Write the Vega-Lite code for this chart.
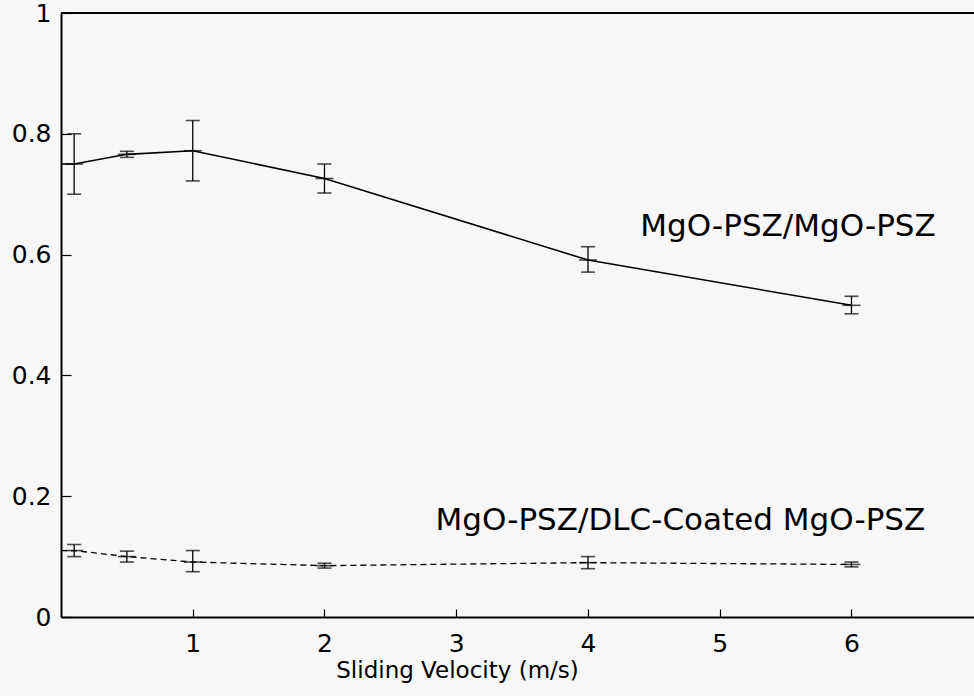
{
  "$schema": "https://vega.github.io/schema/vega-lite/v6.json",
  "width": 913,
  "height": 604,
  "autosize": {"type": "none"},
  "padding": {"left": 61, "top": 13, "right": 0, "bottom": 79},
  "background": "#f7f7f7",
  "config": {
    "view": {"stroke": null},
    "font": "DejaVu Sans"
  },
  "data": {
    "values": [
      {"s": "A", "x": 0, "v": 0.75},
      {"s": "A", "x": 0.1, "v": 0.75, "lo": 0.70, "hi": 0.80},
      {"s": "A", "x": 0.5, "v": 0.766, "lo": 0.761, "hi": 0.771},
      {"s": "A", "x": 1, "v": 0.772, "lo": 0.722, "hi": 0.822},
      {"s": "A", "x": 2, "v": 0.726, "lo": 0.702, "hi": 0.750},
      {"s": "A", "x": 4, "v": 0.591, "lo": 0.571, "hi": 0.613},
      {"s": "A", "x": 6, "v": 0.516, "lo": 0.502, "hi": 0.531},
      {"s": "B", "x": 0, "v": 0.11},
      {"s": "B", "x": 0.1, "v": 0.11, "lo": 0.10, "hi": 0.12},
      {"s": "B", "x": 0.5, "v": 0.10, "lo": 0.091, "hi": 0.109},
      {"s": "B", "x": 1, "v": 0.091, "lo": 0.075, "hi": 0.11},
      {"s": "B", "x": 2, "v": 0.085, "lo": 0.081, "hi": 0.089},
      {"s": "B", "x": 4, "v": 0.09, "lo": 0.08, "hi": 0.10},
      {"s": "B", "x": 6, "v": 0.087, "lo": 0.083, "hi": 0.091}
    ]
  },
  "encoding": {
    "x": {
      "field": "x",
      "type": "quantitative",
      "scale": {"domain": [0, 6.93], "nice": false, "zero": false},
      "axis": {
        "title": "Sliding Velocity (m/s)",
        "titleFont": "DejaVu Sans",
        "titleFontSize": 23,
        "titleFontWeight": "normal",
        "titleColor": "#000",
        "titlePadding": 3,
        "titleX": 396,
        "titleAnchor": "middle",
        "titleAlign": "center",
        "values": [1, 2, 3, 4, 5, 6],
        "grid": false,
        "domainColor": "#000",
        "domainWidth": 2,
        "tickColor": "#000",
        "tickWidth": 1.2,
        "tickSize": -8,
        "labelFont": "DejaVu Sans",
        "labelFontSize": 25,
        "labelColor": "#000",
        "labelPadding": 22
      }
    },
    "y": {
      "field": "v",
      "type": "quantitative",
      "scale": {"domain": [0, 1], "nice": false},
      "axis": {
        "title": null,
        "values": [0, 0.2, 0.4, 0.6, 0.8, 1],
        "format": ".1~f",
        "grid": false,
        "domainColor": "#000",
        "domainWidth": 2,
        "tickColor": "#000",
        "tickWidth": 1.2,
        "tickSize": -10,
        "labelFont": "DejaVu Sans",
        "labelFontSize": 25,
        "labelColor": "#000",
        "labelPadding": 20
      }
    }
  },
  "layer": [
    {
      "transform": [{"filter": "datum.s === 'A'"}],
      "mark": {"type": "line", "color": "#000", "strokeWidth": 1.6}
    },
    {
      "transform": [{"filter": "datum.s === 'B'"}],
      "mark": {"type": "line", "color": "#000", "strokeWidth": 1.3, "strokeDash": [6, 4]}
    },
    {
      "mark": {"type": "rule", "color": "#000", "strokeWidth": 1.3},
      "encoding": {
        "y": {"field": "lo", "type": "quantitative", "title": null},
        "y2": {"field": "hi"}
      }
    },
    {
      "mark": {"type": "tick", "orient": "horizontal", "color": "#000", "size": 14, "thickness": 1.6},
      "encoding": {"y": {"field": "lo", "type": "quantitative", "title": null}}
    },
    {
      "mark": {"type": "tick", "orient": "horizontal", "color": "#000", "size": 14, "thickness": 1.6},
      "encoding": {"y": {"field": "hi", "type": "quantitative", "title": null}}
    },
    {
      "transform": [{"filter": "datum.lo != null"}],
      "mark": {"type": "tick", "orient": "horizontal", "color": "#000", "size": 18, "thickness": 1.6}
    },
    {
      "mark": {"type": "rule", "color": "#000", "strokeWidth": 2},
      "encoding": {"x": {"datum": 0}, "x2": {"datum": 6.93}, "y": {"datum": 1}}
    },
    {
      "data": {
        "values": [
          {"label": "MgO-PSZ/MgO-PSZ", "x": 6.64, "v": 0.631},
          {"label": "MgO-PSZ/DLC-Coated MgO-PSZ", "x": 6.56, "v": 0.144}
        ]
      },
      "mark": {"type": "text", "align": "right", "baseline": "alphabetic", "font": "DejaVu Sans", "fontSize": 31, "color": "#000"},
      "encoding": {"text": {"field": "label"}}
    }
  ]
}
